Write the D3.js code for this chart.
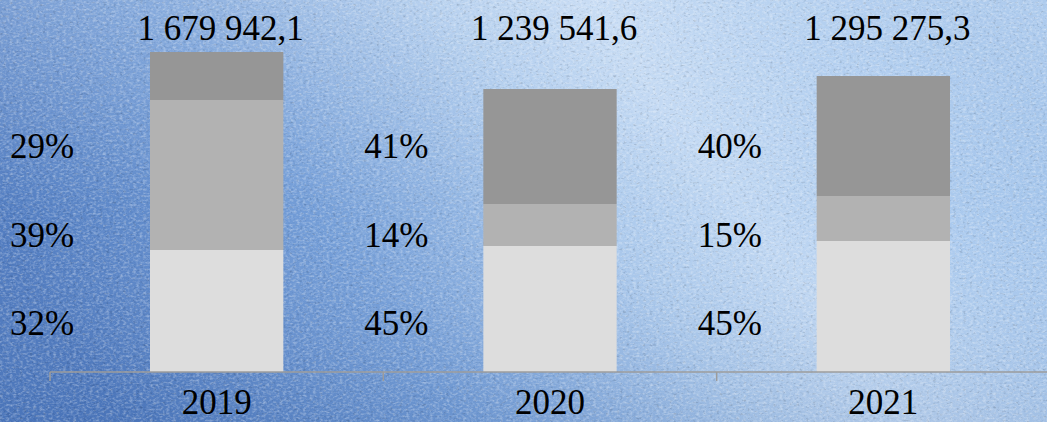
<!DOCTYPE html>
<html>
<head>
<meta charset="utf-8">
<script src="https://cdn.jsdelivr.net/npm/d3@7"></script>
<style>
  html, body { margin: 0; padding: 0; overflow: hidden; }
  #chart { width: 1047px; height: 422px; }
  text { font-family: "Liberation Serif", "Times New Roman", Times, serif; fill: #000; }
</style>
</head>
<body>
<div id="chart"></div>
<script>

// data
var years = ["2019", "2020", "2021"];
var totalLabels = ["1 679 942,1", "1 239 541,6", "1 295 275,3"];
// segment sizes as drawn (bottom -> top)
var lowerValues  = [122, 126, 131];
var middleValues = [150, 42, 45];
var upperValues  = [48, 115, 120];
// percent labels printed to the left of each bar (top row -> bottom row)
var pctUpper  = ["29%", "41%", "40%"];
var pctMiddle = ["39%", "14%", "15%"];
var pctLower  = ["32%", "45%", "45%"];

var W = 1047, H = 422;
var margin = {top: 22, right: -3, bottom: 50, left: 50};
var width = W - margin.left - margin.right,
    height = H - margin.top - margin.bottom;
var FONT = "'Liberation Serif', 'Times New Roman', serif";

var svg = d3.select("#chart").append("svg")
    .attr("width", W)
    .attr("height", H);

// background: blue linen
var defs = svg.append("defs");
var grad = defs.append("linearGradient")
    .attr("id", "bg").attr("x1", "0").attr("y1", "0.6").attr("x2", "1").attr("y2", "0.3");
[["0", "#4f7abf"], ["0.3", "#739dd7"], ["0.55", "#abc9ec"], ["0.68", "#bed6f2"], ["0.85", "#abcaee"], ["1", "#a0c2ea"]]
  .forEach(function(s){ grad.append("stop").attr("offset", s[0]).attr("stop-color", s[1]); });

var shade = defs.append("linearGradient")
    .attr("id", "shade").attr("x1", "0").attr("y1", "0").attr("x2", "0").attr("y2", "1");
shade.append("stop").attr("offset", "0").attr("stop-color", "#ffffff").attr("stop-opacity", 0.15);
shade.append("stop").attr("offset", "0.5").attr("stop-color", "#ffffff").attr("stop-opacity", 0);
shade.append("stop").attr("offset", "1").attr("stop-color", "#1a3f80").attr("stop-opacity", 0.1);

function linen(id, seed, light){
  var f = defs.append("filter").attr("id", id)
      .attr("x", 0).attr("y", 0).attr("width", "100%").attr("height", "100%");
  f.append("feTurbulence")
      .attr("type", "fractalNoise").attr("baseFrequency", "0.3 0.45")
      .attr("numOctaves", 2).attr("seed", seed).attr("result", "noise");
  var c = light ? "1" : "0";
  f.append("feColorMatrix").attr("in", "noise").attr("type", "matrix")
      .attr("values", "0 0 0 0 " + c + "  0 0 0 0 " + c + "  0 0 0 0 " + c + "  " +
            (light ? "1.3 0 0 0 -0.55" : "-1.3 0 0 0 0.55"));
}
linen("linenLight", 4, true);
linen("linenDark", 9, false);

svg.append("rect").attr("width", W).attr("height", H).attr("fill", "url(#bg)");
svg.append("rect").attr("width", W).attr("height", H).attr("fill", "url(#shade)");
svg.append("rect").attr("width", W).attr("height", H).attr("fill", "#fff")
    .attr("opacity", 0.6).attr("filter", "url(#linenLight)");
svg.append("rect").attr("width", W).attr("height", H).attr("fill", "#fff")
    .attr("opacity", 0.35).attr("filter", "url(#linenDark)");

var g = svg.append("g")
    .attr("transform", "translate(" + margin.left + "," + margin.top + ")");

var x = d3.scaleBand()
    .domain(years)
    .range([0, width])
    .paddingInner(0.6)
    .paddingOuter(0.3);

var y = d3.scaleLinear()
    .domain([0, 350])
    .range([height, 0]);

var rows = years.map(function(yr, i){
  return {year: yr, lower: lowerValues[i], middle: middleValues[i], upper: upperValues[i],
          total: totalLabels[i], pu: pctUpper[i], pm: pctMiddle[i], pl: pctLower[i]};
});

var stack = d3.stack().keys(["lower", "middle", "upper"]);
var colors = {lower: "#dddddd", middle: "#b2b2b2", upper: "#969696"};

g.selectAll(".layer")
    .data(stack(rows))
  .enter().append("g")
    .attr("class", "layer")
    .attr("fill", function(d){ return colors[d.key]; })
  .selectAll("rect")
    .data(function(d){ return d; })
  .enter().append("rect")
    .attr("x", function(d){ return x(d.data.year); })
    .attr("y", function(d){ return y(d[1]); })
    .attr("height", function(d){ return y(d[0]) - y(d[1]); })
    .attr("width", x.bandwidth());

// category axis: line with ticks between categories
var step = x.step();
var edges = d3.range(years.length + 1).map(function(i){ return i * step; });

g.append("line")
    .attr("x1", 0).attr("x2", width + 10)
    .attr("y1", height).attr("y2", height)
    .attr("stroke", "#9c9c9c").attr("stroke-width", 1.5);

g.selectAll(".tick")
    .data(edges)
  .enter().append("line")
    .attr("class", "tick")
    .attr("x1", function(d){ return d; }).attr("x2", function(d){ return d; })
    .attr("y1", height).attr("y2", height + 9)
    .attr("stroke", "#9c9c9c").attr("stroke-width", 1.5);

g.selectAll(".yearLabel")
    .data(rows)
  .enter().append("text")
    .attr("class", "yearLabel")
    .attr("x", function(d){ return x(d.year) + x.bandwidth() / 2; })
    .attr("y", height + 42)
    .attr("text-anchor", "middle")
    .attr("font-family", FONT)
    .style("font-size", "35px")
    .text(function(d){ return d.year; });

// totals above bars
g.selectAll(".totalLabel")
    .data(rows)
  .enter().append("text")
    .attr("class", "totalLabel")
    .attr("x", function(d){ return x(d.year) + x.bandwidth() / 2 + 4; })
    .attr("y", 18)
    .attr("text-anchor", "middle")
    .attr("font-family", FONT)
    .style("font-size", "35px")
    .text(function(d){ return d.total; });

// percent labels in three fixed rows left of each bar
var pctRows = [["pu", 136], ["pm", 225], ["pl", 313]];
pctRows.forEach(function(r){
  g.selectAll(".pct_" + r[0])
      .data(rows)
    .enter().append("text")
      .attr("class", "pct_" + r[0])
      .attr("x", function(d, i){ return i === 0 ? -40 : x(d.year) - x.step() * 0.3 - 19; })
      .attr("y", r[1])
      .attr("font-family", FONT)
      .style("font-size", "35px")
      .text(function(d){ return d[r[0]]; });
});

</script>
</body>
</html>
